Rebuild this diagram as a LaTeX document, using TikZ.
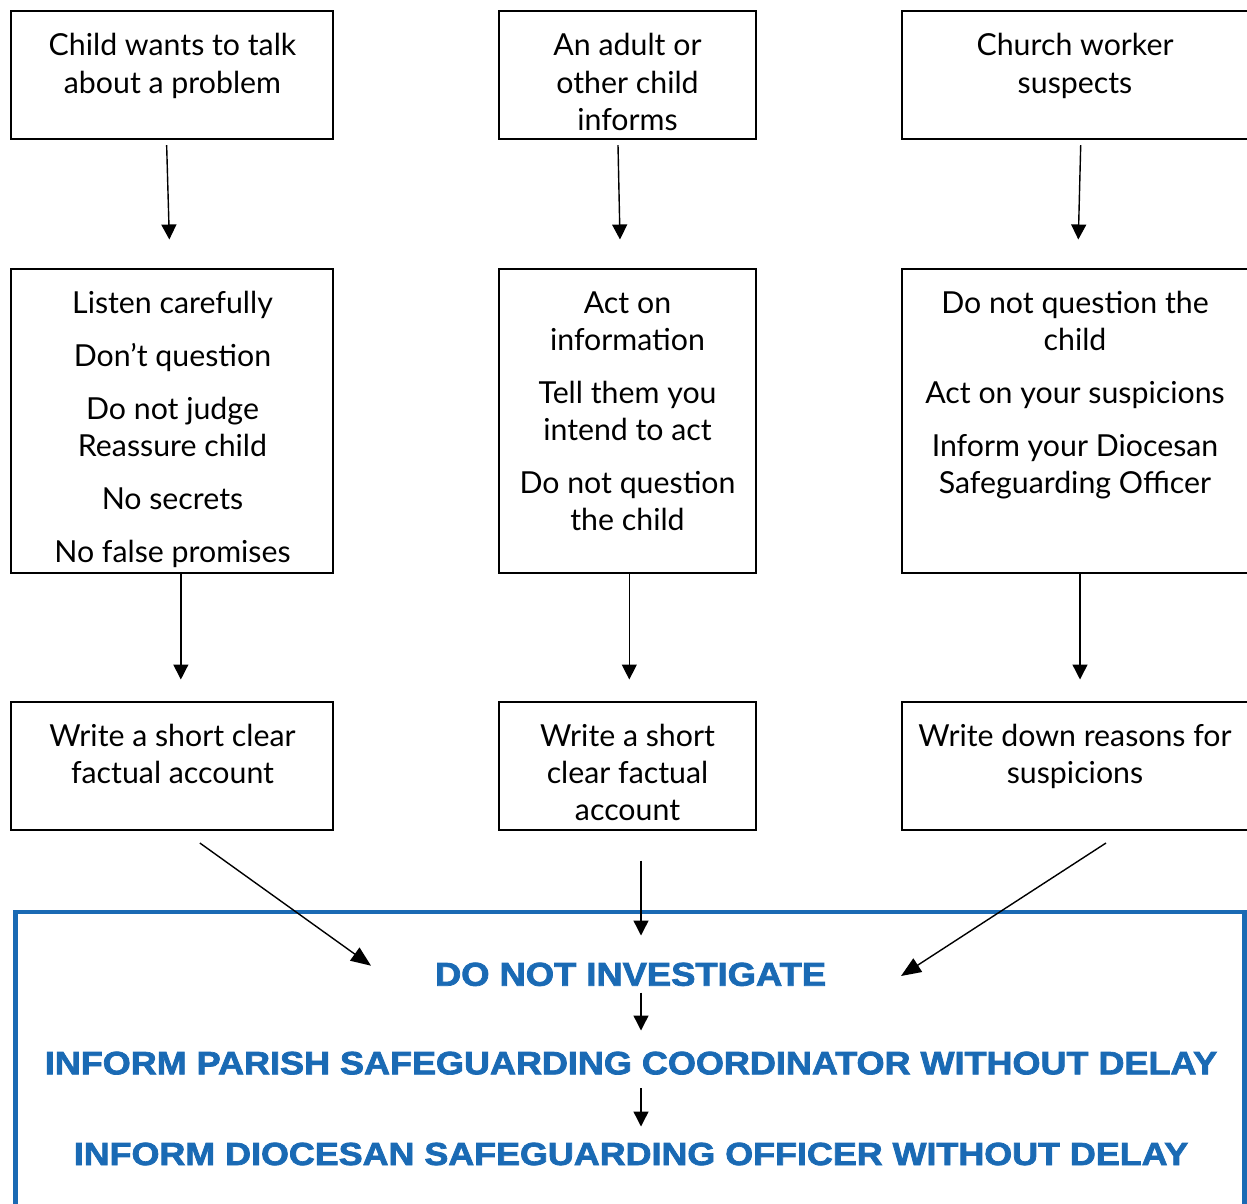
\documentclass[tikz,border=0pt]{standalone}
\usepackage{fontspec}
\setmainfont{Lato}
\newfontfamily\headfont[BoldFont={Liberation Sans Bold},BoldFeatures={FakeBold=2.2}]{Liberation Sans}
\usetikzlibrary{arrows.meta,calc}
\definecolor{sgblue}{RGB}{26,106,180}
\tikzset{
  boxnode/.style={draw=black, line width=2pt, minimum width=#1, minimum height=128pt, inner sep=0pt},
  tallbox/.style={draw=black, line width=2pt, minimum width=#1, minimum height=304pt, inner sep=0pt},
  txt/.style={anchor=base, inner sep=0pt, font=\fontsize{30.3}{36}\selectfont},
  arr/.style={line width=1.4pt, -{Triangle[length=15pt,width=15pt]}},
  darr/.style={line width=1.4pt, -{Triangle[length=20pt,width=16pt]}},
  head/.style={anchor=base, inner sep=0pt, text=sgblue, font=\headfont\bfseries},
}
\begin{document}
\begin{tikzpicture}[x=1pt,y=-1pt]
\useasboundingbox (0,0) rectangle (1247,1204);
\clip (0,0) rectangle (1247,1204);
% row 1 boxes
\node[boxnode=321.5pt] (b11) at (171.85,75.2) {};
\node[boxnode=257pt] (b12) at (627.5,75.2) {};
\node[boxnode=358pt] (b13) at (1081,75.2) {};
% row 2 boxes
\node[tallbox=321.5pt] (b21) at (171.85,421) {};
\node[tallbox=257pt] (b22) at (627.5,421) {};
\node[tallbox=358pt] (b23) at (1081,421) {};
% row 3 boxes
\node[boxnode=321.5pt] (b31) at (171.85,765.5) {};
\node[boxnode=257pt] (b32) at (627.5,765.5) {};
\node[boxnode=358pt] (b33) at (1081,765.5) {};
% blue box
\node[draw=sgblue, line width=4.8pt, minimum width=1229.5pt, minimum height=320pt, inner sep=0pt] (blue) at (629.85,1072) {};

% texts row 1
\node[txt] (t11a) at (172.5,56) {Child wants to talk};
\node[txt] (t11b) at (172.5,93.5) {about a problem};
\node[txt] (t12a) at (627.5,56) {An adult or};
\node[txt] (t12b) at (627.5,93.5) {other child};
\node[txt] (t12c) at (627.5,131) {informs};
\node[txt] (t13a) at (1075,56) {Church worker};
\node[txt] (t13b) at (1075,93.5) {suspects};
% texts row 2
\node[txt] (t21a) at (172.5,313) {Listen carefully};
\node[txt] (t21b) at (172.5,366) {Don’t question};
\node[txt] (t21c) at (172.5,419) {Do not judge};
\node[txt] (t21d) at (172.5,456) {Reassure child};
\node[txt] (t21e) at (172.5,509) {No secrets};
\node[txt] (t21f) at (172.5,562) {No false promises};
\node[txt] (t22a) at (627.5,313) {Act on};
\node[txt] (t22b) at (627.5,350) {information};
\node[txt] (t22c) at (627.5,403) {Tell them you};
\node[txt] (t22d) at (627.5,440) {intend to act};
\node[txt] (t22e) at (627.5,493) {Do not question};
\node[txt] (t22f) at (627.5,530) {the child};
\node[txt] (t23a) at (1075,313) {Do not question the};
\node[txt] (t23b) at (1075,350) {child};
\node[txt] (t23c) at (1075,403) {Act on your suspicions};
\node[txt] (t23d) at (1075,456) {Inform your Diocesan};
\node[txt] (t23e) at (1075,493) {Safeguarding Officer};
% texts row 3
\node[txt] (t31a) at (172.5,746) {Write a short clear};
\node[txt] (t31b) at (172.5,783) {factual account};
\node[txt] (t32a) at (627.5,746) {Write a short};
\node[txt] (t32b) at (627.5,783) {clear factual};
\node[txt] (t32c) at (627.5,820) {account};
\node[txt] (t33a) at (1075,746) {Write down reasons for};
\node[txt] (t33b) at (1075,783) {suspicions};

% blue headings
\node[head] (h1) at (630.5,985.7) {\resizebox{391pt}{23pt}{DO NOT INVESTIGATE}};
\node[head] (h2) at (631,1074.3) {\resizebox{1172pt}{22.6pt}{INFORM PARISH SAFEGUARDING COORDINATOR WITHOUT DELAY}};
\node[head] (h3) at (631,1165) {\resizebox{1114pt}{22.3pt}{INFORM DIOCESAN SAFEGUARDING OFFICER WITHOUT DELAY}};

% arrows row1 -> row2
\draw[arr] ($(b11.south)+(-5.2,5)$) -- ($(b21.north)+(-2.5,-28.5)$);
\draw[arr] ($(b12.south)+(-9.5,5)$) -- ($(b22.north)+(-7.5,-28.5)$);
\draw[arr] ($(b13.south)+(-0.3,5)$) -- ($(b23.north)+(-2.7,-28.5)$);
% arrows row2 -> row3
\draw[arr] ($(b21.south)+(9,0)$) -- ($(b31.north)+(9,-21)$);
\draw[arr] ($(b22.south)+(1.8,0)$) -- ($(b32.north)+(1.8,-21)$);
\draw[arr] ($(b23.south)+(-1,0)$) -- ($(b33.north)+(-1,-21)$);
% arrows row3 -> blue box
\draw[darr] ($(b31.south)+(28,12.5)$) -- (371,965.7);
\draw[arr] ($(b32.south)+(13.5,30)$) -- ($(h1.north)+(10.5,-27)$);
\draw[darr] ($(b33.south)+(25,12.5)$) -- (901,976);
% arrows inside blue box
\draw[arr] ($(h1.south)+(10.5,6.5)$) -- ($(h2.north)+(10,-21)$);
\draw[arr] ($(h2.south)+(10,13.5)$) -- ($(h3.north)+(10,-16)$);
\end{tikzpicture}
\end{document}
